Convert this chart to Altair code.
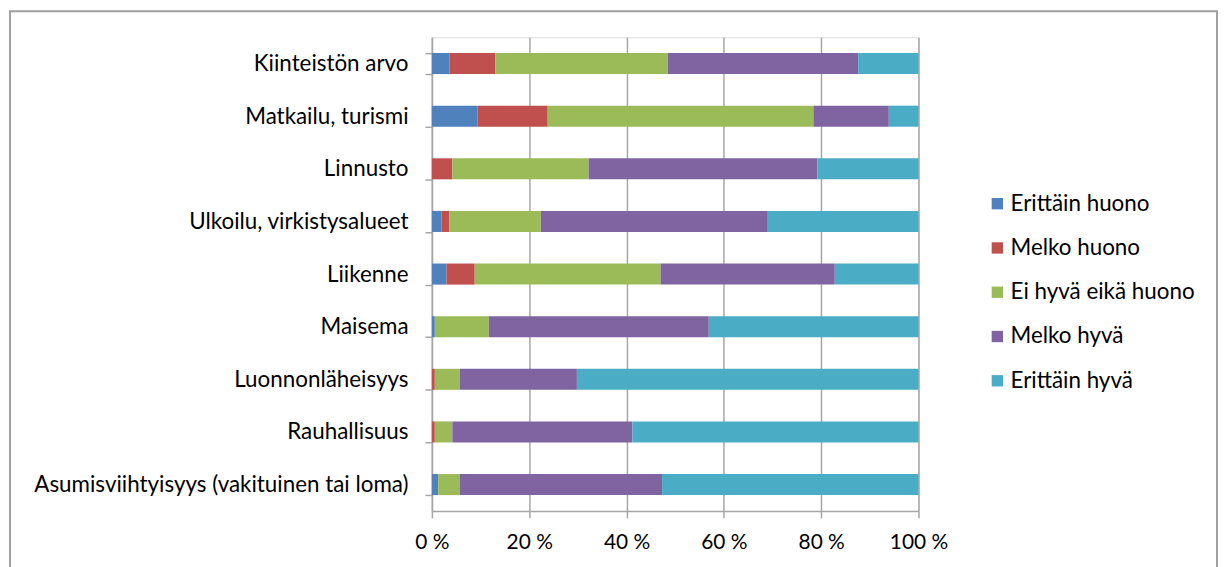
import altair as alt
import pandas as pd

categories = ["Kiinteistön arvo", "Matkailu, turismi", "Linnusto", "Ulkoilu, virkistysalueet",
              "Liikenne", "Maisema", "Luonnonläheisyys", "Rauhallisuus",
              "Asumisviihtyisyys (vakituinen tai loma)"]
series = ["Erittäin huono", "Melko huono", "Ei hyvä eikä huono", "Melko hyvä", "Erittäin hyvä"]
erittain_huono = [3.6, 9.4, 0.0, 2.0, 3.0, 0.6, 0.0, 0.0, 1.3]
melko_huono = [9.4, 14.4, 4.2, 1.6, 5.8, 0.0, 0.6, 0.6, 0.0]
ei_hyva_eika_huono = [35.5, 54.6, 28.0, 18.8, 38.2, 11.1, 5.1, 3.6, 4.4]
melko_hyva = [39.1, 15.5, 47.0, 46.7, 35.8, 45.2, 24.1, 37.0, 41.6]
erittain_hyva = [12.4, 6.1, 20.8, 31.0, 17.2, 43.1, 70.2, 58.8, 52.7]
colors = ["#4F81BD", "#C0504D", "#9BBB59", "#8064A2", "#4BACC6"]

values = [erittain_huono, melko_huono, ei_hyva_eika_huono, melko_hyva, erittain_hyva]
rows = []
for si, (s, vals) in enumerate(zip(series, values)):
    for c, v in zip(categories, vals):
        rows.append({"kohde": c, "arvio": s, "osuus": v, "jarj": si})
df = pd.DataFrame(rows)

FONT = "Lato"
W, H = 489, 476

bars = alt.Chart(df).mark_bar().encode(
    y=alt.Y("kohde:N", sort=categories, title=None,
            scale=alt.Scale(paddingInner=0.6, paddingOuter=0.3),
            axis=alt.Axis(tickBand="extent", tickSize=7, tickColor="#a6a6a6",
                          domainColor="#a6a6a6", domainWidth=1.5, tickWidth=1.5,
                          labelFont=FONT, labelFontSize=22.5, labelColor="#000000",
                          labelPadding=17, labelLimit=0, grid=False)),
    x=alt.X("osuus:Q", stack="normalize", title=None,
            scale=alt.Scale(domain=[0, 1], nice=False),
            axis=alt.Axis(values=[0, 0.2, 0.4, 0.6, 0.8, 1.0],
                          labelExpr="format(datum.value*100,'d') + ' %'",
                          labelFlush=False, labelOverlap=False,
                          grid=True, gridColor="#a6a6a6", gridWidth=1.5,
                          tickSize=7, tickColor="#a6a6a6", tickWidth=1.5,
                          domainColor="#a6a6a6", domainWidth=1.5,
                          labelFont=FONT, labelFontSize=21, labelColor="#000000",
                          labelPadding=14)),
    color=alt.Color("arvio:N", sort=series, title=None,
                    scale=alt.Scale(domain=series, range=colors),
                    legend=alt.Legend(orient="none", legendX=557, legendY=156,
                                      symbolType="square", symbolSize=130,
                                      symbolStrokeWidth=0, labelFont=FONT,
                                      labelFontSize=22.5, labelColor="#000000",
                                      labelLimit=0, rowPadding=21.5, labelOffset=2)),
    order=alt.Order("jarj:Q"),
)

frame = alt.Chart(pd.DataFrame({"k": [0]})).mark_rect(
    filled=False, stroke="#a0a0a0", strokeWidth=2
).encode(x=alt.value(-424), x2=alt.value(789), y=alt.value(-26), y2=alt.value(600))

chart = alt.layer(frame, bars).properties(
    width=W, height=H,
    autosize=alt.AutoSizeParams(type="none"),
    padding={"left": 426, "top": 28, "right": 303, "bottom": 55},
).configure_view(stroke=None).configure(background="#ffffff")

chart.save("out.html", embed_options={"renderer": "svg", "actions": False})
